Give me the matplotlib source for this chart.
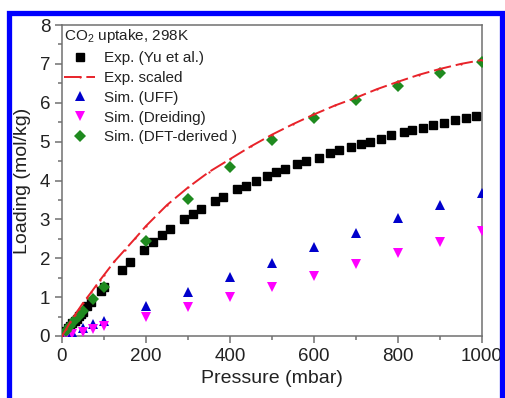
import matplotlib
matplotlib.use("Agg")
import matplotlib.pyplot as plt
from matplotlib.ticker import MultipleLocator
from matplotlib.patches import Rectangle

plt.rcParams['font.family'] = ['Liberation Sans', 'DejaVu Sans']
plt.rcParams['mathtext.fontset'] = 'custom'
plt.rcParams['mathtext.rm'] = 'Liberation Sans'

# Exp. (Yu et al.)
exp_p = [5, 10, 15, 20, 25, 30, 35, 40, 45, 50, 60, 70, 92, 101, 142, 162, 195, 216, 237, 257,
         291, 313, 331, 364, 384, 417, 437, 463, 487, 510, 532, 560, 582, 612, 638, 660, 687,
         713, 733, 759, 783, 814, 834, 860, 884, 910, 936, 961, 986]
exp_l = [0.07, 0.13, 0.2, 0.26, 0.33, 0.39, 0.45, 0.51, 0.57, 0.63, 0.76, 0.88, 1.16, 1.27, 1.70,
         1.90, 2.21, 2.41, 2.60, 2.74, 3.01, 3.14, 3.26, 3.47, 3.58, 3.77, 3.86, 4.0, 4.11, 4.21,
         4.30, 4.42, 4.50, 4.59, 4.70, 4.78, 4.85, 4.94, 5.0, 5.08, 5.16, 5.24, 5.29, 5.36, 5.42,
         5.49, 5.55, 5.60, 5.66]

# Exp. scaled
scl_p = [0, 10, 20, 30, 40, 50, 60, 70, 80, 90, 100, 125, 150, 175, 200, 250, 300, 350, 400,
         450, 500, 550, 600, 650, 700, 750, 800, 850, 900, 950, 1000]
scl_l = [0, 0.18, 0.36, 0.53, 0.69, 0.85, 0.99, 1.13, 1.28, 1.43, 1.57, 1.92, 2.22, 2.52, 2.83,
         3.37, 3.82, 4.22, 4.55, 4.88, 5.18, 5.45, 5.70, 5.93, 6.13, 6.35, 6.54, 6.72, 6.87, 7.0, 7.1]

# Simulations
sim_p = [10, 25, 50, 75, 100, 200, 300, 400, 500, 600, 700, 800, 900, 1000]
uff_l = [0.04, 0.1, 0.2, 0.3, 0.39, 0.76, 1.13, 1.51, 1.89, 2.28, 2.66, 3.03, 3.37, 3.68]
dre_l = [0.02, 0.05, 0.11, 0.17, 0.25, 0.50, 0.75, 1.01, 1.27, 1.55, 1.85, 2.13, 2.41, 2.70]

dft_p = [10, 20, 30, 40, 50, 75, 100, 200, 300, 400, 500, 600, 700, 800, 900, 1000]
dft_l = [0.13, 0.27, 0.40, 0.52, 0.65, 0.95, 1.27, 2.45, 3.52, 4.36, 5.03, 5.60, 6.07, 6.44, 6.77, 7.05]

fig = plt.figure(figsize=(5.06, 3.98), dpi=100)
fig.patches.append(Rectangle((9.5 / 506, -0.1), (502.5 - 9.5) / 506, (398 - 12.5) / 398 + 0.1,
                             transform=fig.transFigure, fill=False, edgecolor='#0000ff',
                             linewidth=3.8, zorder=0))
ax = fig.add_axes([62 / 506, 62 / 398, 420 / 506, 311 / 398])

grey = '#707070'
ax.plot(exp_p, exp_l, 's', color='black', markersize=5.2, label='Exp. (Yu et al.)', zorder=3)
ax.plot(scl_p, scl_l, color='#e8232a', linestyle=(0, (9, 2.5)), linewidth=1.4,
        marker='o', markersize=1.6, markeredgewidth=0, label='Exp. scaled', zorder=4)
ax.plot(sim_p, uff_l, '^', color='#0000cc', markersize=6.5, markeredgewidth=0, label='Sim. (UFF)', zorder=3)
ax.plot(sim_p, dre_l, 'v', color='#ff00ff', markersize=6.5, markeredgewidth=0, label='Sim. (Dreiding)', zorder=3)
ax.plot(dft_p, dft_l, 'D', color='#1f8a1f', markersize=6.3, markeredgewidth=0, label='Sim. (DFT-derived )', zorder=3)

ax.set_xlim(0, 1000)
ax.set_ylim(0, 8)
ax.xaxis.set_major_locator(MultipleLocator(200))
ax.xaxis.set_minor_locator(MultipleLocator(100))
ax.yaxis.set_major_locator(MultipleLocator(1))
ax.yaxis.set_minor_locator(MultipleLocator(0.5))
ax.tick_params(which='both', direction='out', colors=grey, labelcolor='#222222', width=1.1,
               top=False, right=False)
ax.tick_params(which='major', length=5, labelsize=13.5)
ax.tick_params(which='minor', length=3)
for s in ax.spines.values():
    s.set_color(grey)
    s.set_linewidth(1.1)

ax.set_xlabel('Pressure (mbar)', fontsize=14, color='#222222', labelpad=4)
ax.set_ylabel('Loading (mol/kg)', fontsize=14, color='#222222', labelpad=6)

leg = ax.legend(loc='upper left', frameon=False, fontsize=11, numpoints=1,
                title='CO$_2$ uptake, 298K', title_fontsize=11, alignment='left',
                handlelength=2.0, handletextpad=0.6, labelspacing=0.38,
                borderaxespad=0.1, borderpad=0.05)
for t in leg.get_texts():
    t.set_color('#222222')
leg.get_title().set_color('#222222')

fig.savefig('out.png', dpi=100)
